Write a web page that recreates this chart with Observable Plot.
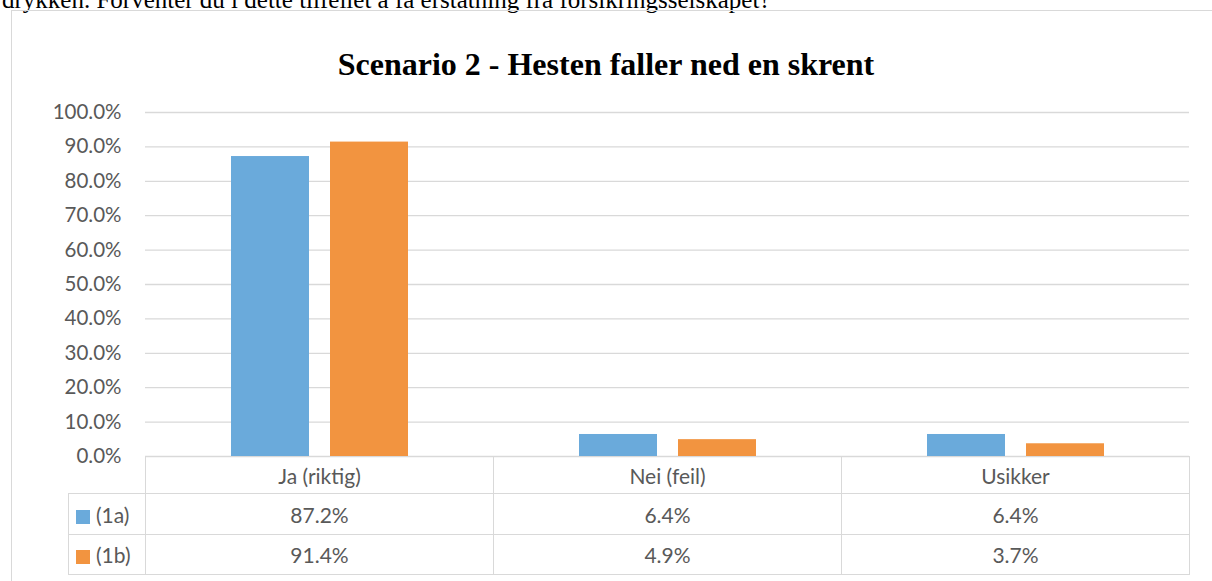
<!DOCTYPE html>
<html><head><meta charset="utf-8">
<script src="https://cdn.jsdelivr.net/npm/d3@7"></script>
<script src="https://cdn.jsdelivr.net/npm/@observablehq/plot@0.6"></script>
<style>
body{margin:0;background:#fff;}
#page{position:relative;width:1212px;height:581px;overflow:hidden;background:#fff;}
#intro{position:absolute;left:2px;top:-13.5px;font:25px/25px "Liberation Serif",serif;color:#000;white-space:nowrap;}
#box{position:absolute;left:11px;top:10px;width:1300px;height:700px;border:1.3px solid #d9d9d9;box-sizing:border-box;}
#title{position:absolute;left:0;width:1212px;top:48px;text-align:center;font:bold 32px/32px "Liberation Serif",serif;color:#000;}
#chart{position:absolute;left:0;top:90px;}
#table{position:absolute;left:68px;top:456px;border-collapse:collapse;table-layout:fixed;font:21px Lato,sans-serif;color:#595959;}
#table td{border:1.3px solid #d9d9d9;text-align:center;padding:0;white-space:nowrap;}
#table td.empty{border:none;}
#table td.leg{text-align:left;padding-left:7px;}
.sw{display:inline-block;width:14px;height:14px;margin-right:6px;vertical-align:-1px;}
</style></head>
<body>
<div id="page">
  <div id="intro"></div>
  <div id="box"></div>
  <div id="title"></div>
  <div id="chart"></div>
</div>
<script>
const categories = ["Ja (riktig)", "Nei (feil)", "Usikker"];
const seriesNames = ["(1a)", "(1b)"];
const values1a = [0.872, 0.064, 0.064];
const values1b = [0.914, 0.049, 0.037];
const seriesColors = ["#6AAADB", "#F29440"];
const yTicks = [0, 0.1, 0.2, 0.3, 0.4, 0.5, 0.6, 0.7, 0.8, 0.9, 1.0];
const titleText = "Scenario 2 - Hesten faller ned en skrent";
const introText = "drykken. Forventer du i dette tilfellet å få erstatning fra forsikringsselskapet?";

const seriesValues = [values1a, values1b];
const rows = seriesNames.flatMap((s, i) => categories.map((c, j) => ({category: c, series: s, value: seriesValues[i][j]})));
const fmt = d3.format(".1%");

document.getElementById("intro").textContent = introText;
document.getElementById("title").textContent = titleText;

const plot = Plot.plot({
  width: 1212, height: 368,
  marginLeft: 144, marginRight: 23, marginTop: 22, marginBottom: 2,
  style: {fontFamily: "Lato, sans-serif", fontSize: "20.5px", color: "#595959", background: "transparent", overflow: "visible"},
  fx: {domain: categories, padding: 0, axis: null},
  x: {domain: seriesNames, paddingInner: 0.215, paddingOuter: 0.849, axis: null},
  y: {domain: [0, 1]},
  color: {domain: seriesNames, range: seriesColors},
  marks: [
    Plot.gridY(yTicks, {stroke: "#d9d9d9", strokeOpacity: 1, strokeWidth: 1.3}),
    Plot.axisY(yTicks, {tickFormat: fmt, tickSize: 0, tickPadding: 24, fontSize: 20.5, fill: "#595959", label: null}),
    Plot.barY(rows, {fx: "category", x: "series", y: "value", fill: "series"})
  ]
});
document.getElementById("chart").appendChild(plot);

// data table aligned to the fx scale
const fxs = plot.scale("fx");
const bw = fxs.bandwidth;
const left0 = fxs.apply(categories[0]);
const tableLeft = 68;
const tbl = d3.select("#page").append("table").attr("id", "table")
  .style("width", (left0 - tableLeft + bw * categories.length) + "px");
const cg = tbl.append("colgroup");
cg.append("col").style("width", (left0 - tableLeft) + "px");
categories.forEach(() => cg.append("col").style("width", bw + "px"));
const hr = tbl.append("tr");
hr.append("td").attr("class", "empty").style("height", "36px");
categories.forEach(c => hr.append("td").style("height", "36px").text(c));
const rowH = [40, 39];
seriesNames.forEach((s, i) => {
  const tr = tbl.append("tr");
  const lt = tr.append("td").attr("class", "leg").style("height", rowH[i] + "px");
  lt.append("span").attr("class", "sw").style("background", seriesColors[i]);
  lt.append("span").text(s);
  seriesValues[i].forEach(v => tr.append("td").text(fmt(v)));
});
</script>
</body></html>
